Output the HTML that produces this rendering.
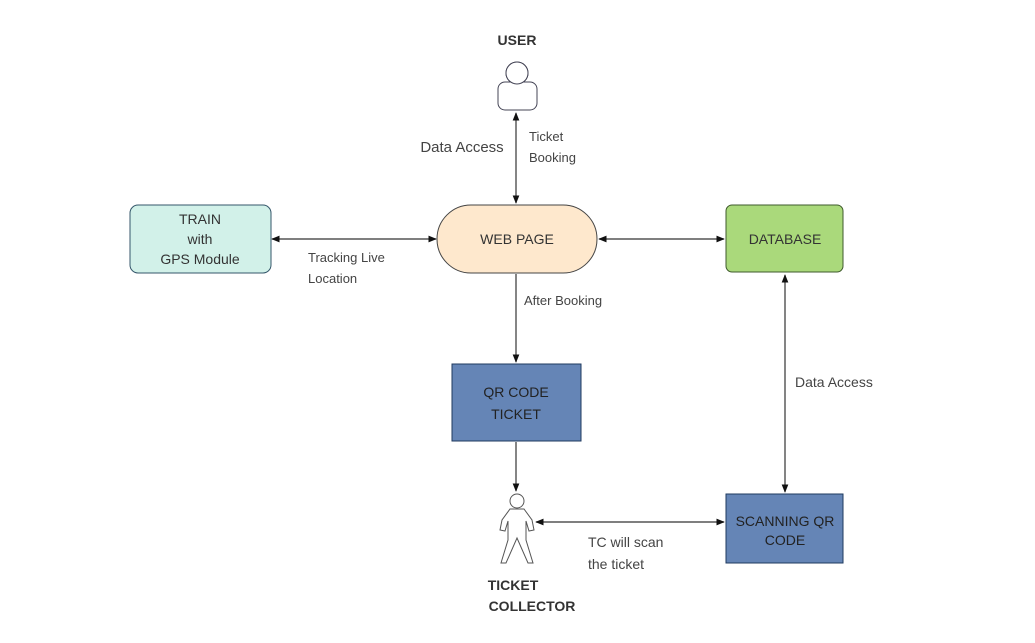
<!DOCTYPE html>
<html><head><style>body{margin:0;background:#fff}svg{display:block}text{font-family:"Liberation Sans",sans-serif}</style></head><body>
<svg width="1035" height="643" viewBox="0 0 1035 643" xmlns="http://www.w3.org/2000/svg">
<defs><marker id="a" viewBox="0 0 10 10" refX="9" refY="5" markerWidth="7" markerHeight="7" orient="auto-start-reverse"><path d="M0,1 L10,5 L0,9 Z" fill="#111"/></marker></defs>
<g stroke="#333" stroke-width="1.2" fill="none">
<line x1="516" y1="113" x2="516" y2="203" marker-start="url(#a)" marker-end="url(#a)"/>
<line x1="272" y1="239" x2="436" y2="239" marker-start="url(#a)" marker-end="url(#a)"/>
<line x1="599" y1="239" x2="724" y2="239" marker-start="url(#a)" marker-end="url(#a)"/>
<line x1="516" y1="274" x2="516" y2="362" marker-end="url(#a)"/>
<line x1="516" y1="442" x2="516" y2="491" marker-end="url(#a)"/>
<line x1="785" y1="275" x2="785" y2="492" marker-start="url(#a)" marker-end="url(#a)"/>
<line x1="536" y1="522" x2="724" y2="522" marker-start="url(#a)" marker-end="url(#a)"/>
</g>
<text x="517" y="45" text-anchor="middle" font-size="14" font-weight="bold" fill="#333">USER</text>
<circle cx="517" cy="73" r="11" fill="#fff" stroke="#445"/>
<rect x="498" y="82" width="39" height="28" rx="7" fill="#fff" stroke="#445"/>
<circle cx="517" cy="73" r="11" fill="#fff" stroke="#445"/>
<text x="462" y="152" text-anchor="middle" font-size="15" fill="#444">Data Access</text>
<text x="529" y="141" font-size="13" fill="#444">Ticket</text>
<text x="529" y="162" font-size="13" fill="#444">Booking</text>
<rect x="130" y="205" width="141" height="68" rx="8" fill="#d2f1e9" stroke="#34566a"/>
<text x="200" y="224" text-anchor="middle" font-size="14" fill="#333">TRAIN</text>
<text x="200" y="244" text-anchor="middle" font-size="14" fill="#333">with</text>
<text x="200" y="264" text-anchor="middle" font-size="14" fill="#333">GPS Module</text>
<rect x="437" y="205" width="160" height="68" rx="34" fill="#fee8cd" stroke="#444"/>
<text x="517" y="244" text-anchor="middle" font-size="14" fill="#333">WEB PAGE</text>
<rect x="726" y="205" width="117" height="67" rx="6" fill="#aad97b" stroke="#3f5a2c"/>
<text x="785" y="244" text-anchor="middle" font-size="14" fill="#333">DATABASE</text>
<text x="308" y="262" font-size="13" fill="#444">Tracking Live</text>
<text x="308" y="283" font-size="13" fill="#444">Location</text>
<text x="524" y="305" font-size="13" fill="#444">After Booking</text>
<rect x="452" y="364" width="129" height="77" fill="#6585b6" stroke="#1f3a5f"/>
<text x="516" y="397" text-anchor="middle" font-size="14" fill="#222">QR CODE</text>
<text x="516" y="419" text-anchor="middle" font-size="14" fill="#222">TICKET</text>
<text x="795" y="387" font-size="14" fill="#444">Data Access</text>
<rect x="726" y="494" width="117" height="69" fill="#6585b6" stroke="#1f3a5f"/>
<text x="785" y="526" text-anchor="middle" font-size="14" fill="#222">SCANNING QR</text>
<text x="785" y="545" text-anchor="middle" font-size="14" fill="#222">CODE</text>
<g fill="#fff" stroke="#555" stroke-width="1">
<circle cx="517" cy="501" r="7"/>
<path d="M510,509 L524,509 L532,520 L534,530 L529,531 L526,521 L526,540 L533,563 L528,563 L517,538 L506,563 L501,563 L508,540 L508,521 L505,531 L500,530 L502,520 Z"/>
</g>
<text x="513" y="590" text-anchor="middle" font-size="14" font-weight="bold" fill="#333">TICKET</text>
<text x="532" y="611" text-anchor="middle" font-size="14" font-weight="bold" fill="#333">COLLECTOR</text>
<text x="588" y="547" font-size="14" fill="#444">TC will scan</text>
<text x="588" y="569" font-size="14" fill="#444">the ticket</text>
</svg>
</body></html>
